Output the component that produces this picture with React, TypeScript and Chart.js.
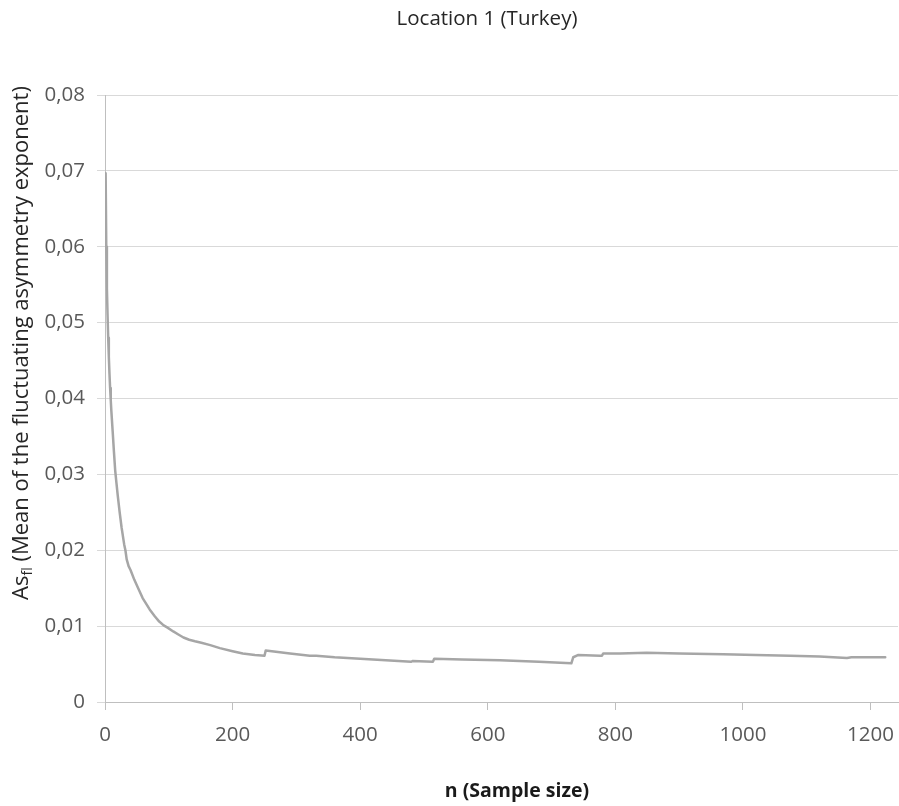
import React, { useEffect, useRef } from "react";
import { Chart, registerables } from "chart.js";

Chart.register(...registerables);

const chartTitle = "Location 1 (Turkey)";
const xAxisTitle = "n (Sample size)";
const yTitleMain = "As";
const yTitleSub = "fl";
const yTitleRest = " (Mean of the fluctuating asymmetry exponent)";

const sampleN = [
  1, 2, 3, 4, 5, 6, 7, 8, 9, 10, 12, 14, 16, 18, 20, 23, 26, 30, 32, 34, 37, 40, 46,
  52, 59, 70, 78, 85, 92, 98, 107, 115, 123, 132, 141, 151, 165, 180, 200, 216, 235,
  250, 252, 290, 321, 331, 360, 400, 440, 480, 482, 514, 516, 560, 619, 680, 731,
  734, 742, 776, 779, 781, 807, 849, 900, 969, 1020, 1074, 1120, 1163, 1170, 1223,
];
const meanAsym = [
  0.0697, 0.06, 0.0545, 0.051, 0.048, 0.0455, 0.0433, 0.0414, 0.0398, 0.0383, 0.0357,
  0.033, 0.0305, 0.0288, 0.0272, 0.025, 0.023, 0.0208, 0.02, 0.0188, 0.0179, 0.0174,
  0.0161, 0.015, 0.0137, 0.0122, 0.0113, 0.0106, 0.0101, 0.0098, 0.0093, 0.0089,
  0.0085, 0.0082, 0.008, 0.0078, 0.0075, 0.0071, 0.0067, 0.0064, 0.0062, 0.0061,
  0.0068, 0.0064, 0.0061, 0.0061, 0.0059, 0.0057, 0.0055, 0.0053, 0.0054, 0.0053,
  0.0057, 0.0056, 0.0055, 0.0053, 0.0051, 0.0059, 0.0062, 0.0061, 0.0061, 0.0064,
  0.0064, 0.0065, 0.0064, 0.0063, 0.0062, 0.0061, 0.006, 0.0058, 0.0059, 0.0059,
];
const xTickValues = [0, 200, 400, 600, 800, 1000, 1200];

const FONT = "'Open Sans', sans-serif";

const titlesPlugin = {
  id: "customTitles",
  afterDraw(chart: any) {
    const ctx = chart.ctx as CanvasRenderingContext2D;
    ctx.save();
    ctx.fillStyle = "#262626";
    ctx.font = `20.5px ${FONT}`;
    ctx.textAlign = "center";
    ctx.textBaseline = "middle";
    ctx.fillText(chartTitle, 487, 19);
    ctx.font = `bold 19.5px ${FONT}`;
    ctx.fillStyle = "#1a1a1a";
    ctx.fillText(xAxisTitle, 517, 791);
    ctx.translate(20, 343);
    ctx.rotate(-Math.PI / 2);
    ctx.fillStyle = "#262626";
    const mainFont = `22px ${FONT}`;
    const subFont = `14px ${FONT}`;
    ctx.font = mainFont;
    const w1 = ctx.measureText(yTitleMain).width;
    const w3 = ctx.measureText(yTitleRest).width;
    ctx.font = subFont;
    const w2 = ctx.measureText(yTitleSub).width;
    const total = w1 + w2 + w3;
    let x = -total / 2;
    ctx.textAlign = "left";
    ctx.textBaseline = "alphabetic";
    ctx.font = mainFont;
    ctx.fillText(yTitleMain, x, 8);
    x += w1;
    ctx.font = subFont;
    ctx.fillText(yTitleSub, x, 12);
    x += w2;
    ctx.font = mainFont;
    ctx.fillText(yTitleRest, x, 8);
    ctx.restore();
  },
};

export default function App() {
  const canvasRef = useRef<HTMLCanvasElement | null>(null);

  useEffect(() => {
    if (!canvasRef.current) return;
    const points = sampleN.map((n, i) => ({ x: n, y: meanAsym[i] }));
    const chart = new Chart(canvasRef.current, {
      type: "line",
      data: {
        datasets: [
          {
            data: points,
            borderColor: "#a6a6a6",
            borderWidth: 2.5,
            borderJoinStyle: "round",
            borderCapStyle: "round",
            pointRadius: 0,
            tension: 0,
            fill: false,
          },
        ],
      },
      options: {
        animation: false,
        responsive: false,
        maintainAspectRatio: false,
        layout: { padding: { top: 95, left: 8, right: 1, bottom: 0 } },
        plugins: {
          legend: { display: false },
          tooltip: { enabled: false },
          title: { display: false },
        },
        scales: {
          x: {
            type: "linear",
            min: 0,
            max: 1243,
            afterBuildTicks: (scale: any) => {
              scale.ticks = xTickValues.map((v) => ({ value: v }));
            },
            afterFit: (scale: any) => {
              scale.height = 104;
              scale.paddingRight = 0;
              scale.paddingLeft = 0;
            },
            grid: {
              drawOnChartArea: false,
              drawTicks: true,
              tickLength: 8,
              color: "#bfbfbf",
            },
            border: { display: true, color: "#bfbfbf", width: 1 },
            ticks: {
              color: "#595959",
              font: { family: FONT, size: 20.5 },
              padding: 13,
              maxRotation: 0,
              autoSkip: false,
              callback: (v: any) => String(v),
            },
          },
          y: {
            type: "linear",
            min: 0,
            max: 0.08,
            afterFit: (scale: any) => {
              scale.width = 97;
              scale.paddingTop = 0;
              scale.paddingBottom = 0;
            },
            grid: {
              color: "#d9d9d9",
              drawTicks: true,
              tickLength: 8,
            },
            border: { display: true, color: "#bfbfbf", width: 1 },
            ticks: {
              stepSize: 0.01,
              color: "#595959",
              font: { family: FONT, size: 20.5 },
              padding: 12,
              callback: (v: any) => {
                const n = Number(v);
                if (Math.abs(n) < 1e-9) return "0";
                return n.toFixed(2).replace(".", ",");
              },
            },
          },
        },
      },
      plugins: [titlesPlugin],
    });
    return () => chart.destroy();
  }, []);

  return (
    <div style={{ position: "fixed", left: 0, top: 0, width: 899, height: 806, background: "#fff" }}>
      <canvas ref={canvasRef} width={899} height={806} style={{ width: 899, height: 806 }} />
    </div>
  );
}
